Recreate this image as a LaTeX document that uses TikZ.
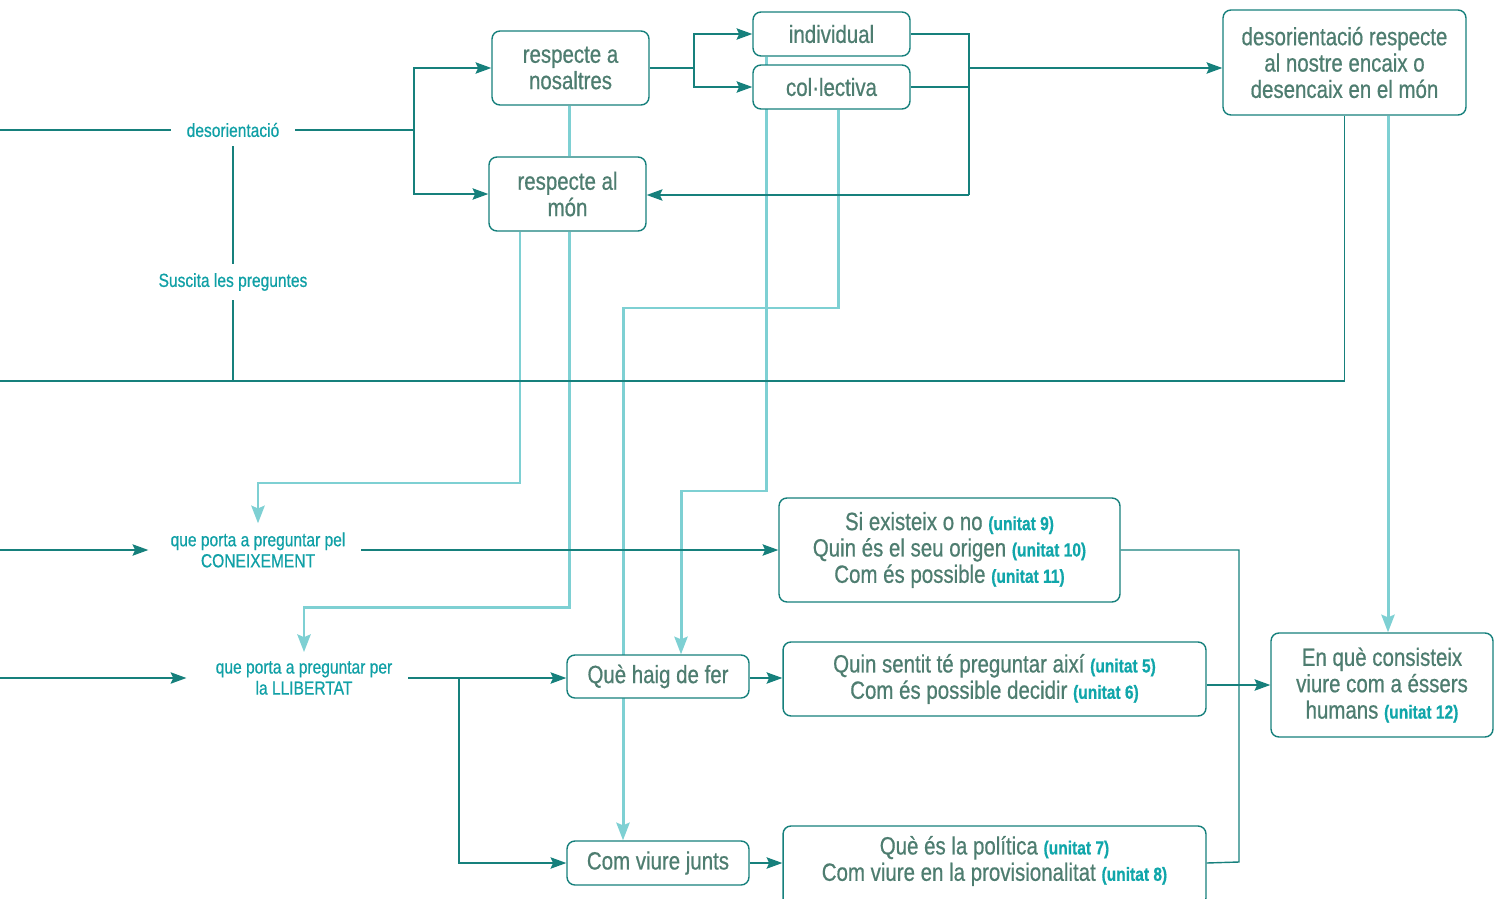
\documentclass[tikz,border=0pt]{standalone}
\usepackage{fontspec}
\setmainfont[FakeStretch=0.82,FakeBold=0.6]{Liberation Sans}
\usetikzlibrary{arrows.meta,backgrounds}
\definecolor{dk}{RGB}{22,128,124}
\definecolor{lt}{RGB}{126,208,211}
\definecolor{txt}{RGB}{78,125,112}
\definecolor{lab}{RGB}{16,160,166}
\definecolor{unc}{RGB}{16,166,170}
\newcommand{\unit}[1]{{\fontsize{10.8}{12}\selectfont\bfseries\color{unc}(unitat #1)}}
\begin{document}
\begin{tikzpicture}[x=0.02cm,y=-0.02cm,
 box/.style={draw=dk, line width=0.8pt, rounded corners=4.5pt, fill=white, align=center, text=txt, font=\fontsize{14.2}{15}\selectfont, inner sep=0pt},
 btext/.style={align=center, text=txt, font=\fontsize{14.2}{15}\selectfont, inner sep=0pt},
 lbl/.style={fill=white, align=center, text=lab, font=\fontsize{10.8}{12}\selectfont, inner xsep=9pt, inner ysep=5pt},
 dline/.style={draw=dk, line width=0.8pt},
 darr/.style={dline, -{Stealth[length=9pt,width=6.5pt,inset=1.5pt]}},
 lline/.style={draw=lt, line width=1.7pt},
 larr/.style={lline, -{Stealth[length=10pt,width=7.5pt,inset=1.5pt]}},
]
\useasboundingbox (0,0) rectangle (1501,899);
\clip (0,0) rectangle (1501,899);

% boxes
\node[box, minimum width=3.14cm, minimum height=1.48cm] (b1) at (570.5,68) {respecte a\\nosaltres};
\node[box, minimum width=3.14cm, minimum height=1.48cm] (b2) at (567.5,194) {respecte al\\món};
\node[box, minimum width=3.14cm, minimum height=0.88cm] (b3) at (831.5,34) {individual};
\node[box, minimum width=3.14cm, minimum height=0.88cm] (b4) at (831.5,87) {col·lectiva};
\node[box, minimum width=4.86cm, minimum height=2.1cm] (b5) at (1344.5,62.5) {desorientació respecte\\al nostre encaix o\\desencaix en el món};
\node[box, minimum width=6.82cm, minimum height=2.08cm] (b6) at (949.5,550) {Si existeix o no \unit{9}\\Quin és el seu origen \unit{10}\\Com és possible \unit{11}};
\node[box, minimum width=3.64cm, minimum height=0.86cm] (b7) at (658,676.5) {Què haig de fer};
\node[box, minimum width=8.46cm, minimum height=1.48cm] (b8) at (994.5,679) {Quin sentit té preguntar així \unit{5}\\Com és possible decidir \unit{6}};
\node[box, minimum width=4.44cm, minimum height=2.08cm] (b9) at (1382,685) {En què consisteix\\viure com a éssers\\humans \unit{12}};
\node[box, minimum width=3.64cm, minimum height=0.88cm] (b10) at (658,863) {Com viure junts};
\node[box, minimum width=8.46cm, minimum height=1.6cm] (b11) at (994.5,866) {};
\node[btext] (t11) at (994.5,861) {Què és la política \unit{7}\\Com viure en la provisionalitat \unit{8}};

% labels
\node[lbl] (l1) at (233,130) {desorientació};
\node[lbl] (l2) at (233,282) {Suscita les preguntes};
\node[lbl] (l3) at (258,550) {que porta a preguntar pel\\CONEIXEMENT};
\node[lbl] (l4) at (304,678) {que porta a preguntar per\\la LLIBERTAT};

% helper coordinates
\coordinate (h381) at (0,381);
\coordinate (c969) at (969,195);
\coordinate (x766) at (766,0);
\coordinate (x838) at (838,0);
\coordinate (x681) at (681,0);
\coordinate (x623) at (623,0);
\coordinate (x569) at (569,0);
\coordinate (x520) at (520,0);
\coordinate (x1388) at (1388,0);

\begin{pgfonlayer}{background}
% light connectors
\draw[lline] (x569 |- b1.south) -- (x569 |- b2.north);
\draw[larr] (x569 |- b2.south) -- (569,607) -| (l4.north);
\draw[larr] (x520 |- b2.south) -- (520,483) -| (l3.north);
\draw[larr] (x766 |- b3.south) -- (766,491) -| (x681 |- b7.north);
\draw[larr] (x838 |- b4.south) -- (838,308) -| (x623 |- b10.north);
\draw[larr] (x1388 |- b5.south) -- (x1388 |- b9.north);

% dark connectors
\draw[dline] (0,130) -- (l1.west);
\draw[dline] (l1.east) -- (414,130);
\draw[darr] (414,130) |- (b1.west);
\draw[darr] (414,130) |- (b2.west);
\draw[dline] (l1.south) -- (l2.north);
\draw[dline] (l2.south) -- (l2.south |- h381);
\draw[dline] (h381) -| (b5.south);
\draw[dline] (b1.east) -- (694,68);
\draw[darr] (694,68) |- (b3.west);
\draw[darr] (694,68) |- (b4.west);
\draw[dline] (b3.east) -| (c969);
\draw[dline] (b4.east) -- (b4.east -| c969);
\draw[darr] (b1.east -| c969) -- (b1.east -| b5.west);
\draw[darr] (c969) -- (c969 -| b2.east);
\draw[darr] (0,550) -- ([xshift=-3.5pt]l3.west);
\draw[darr] ([xshift=-2pt]l3.east) -- (b6.west);
\draw[darr] (0,678) -- ([xshift=-7.5pt]l4.west);
\draw[darr] ([xshift=-3pt]l4.east) -- (b7.west |- l4.east);
\draw[darr] (459,678) |- (b10.west);
\draw[darr] (b7.east |- l4.east) -- (b8.west |- l4.east);
\draw[darr] (b10.east) -- (b10.east -| b11.west);
\draw[dline] (b6.east) -| (1239,862) -- (b10.east -| b11.east);
\draw[darr] (b9.west -| b8.east) -- (b9.west);
\end{pgfonlayer}
\end{tikzpicture}
\end{document}
